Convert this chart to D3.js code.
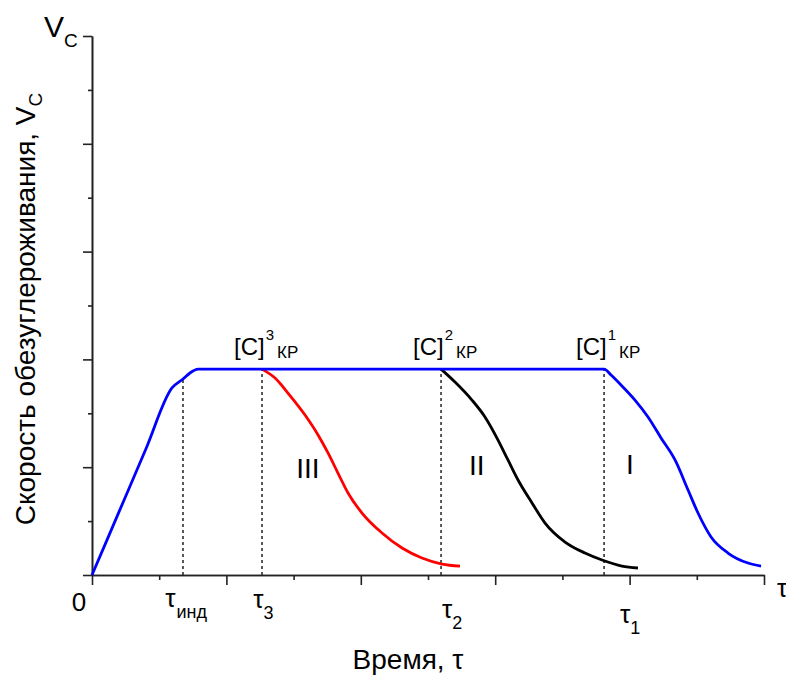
<!DOCTYPE html>
<html><head><meta charset="utf-8">
<script src="https://cdn.jsdelivr.net/npm/d3@7"></script>
<style>body{margin:0;background:#fff;} svg{display:block;font-family:"Liberation Sans",Arial,sans-serif;}</style>
</head><body>
<svg id="c" width="786" height="675"></svg>
<script>
// ---- data ----
const xMajorTicks = [0, 1, 2, 3, 4, 5];
const xMinorTicks = [0.5, 1.5, 2.5, 3.5, 4.5];
const yMajorTicks = [0, 1, 2, 3, 4, 5];
const yMinorTicks = [0.5, 1.5, 2.5, 3.5, 4.5];

// curve I (blue): induction ramp, plateau, decline
const seriesI_x = [0, 0.2, 0.4, 0.595, 0.677, 0.729, 0.789, 3.81, 3.862, 3.936, 4.040, 4.137, 4.234, 4.338, 4.435, 4.509, 4.606, 4.732, 4.881, 4.978];
const seriesI_y = [0, 0.583, 1.166, 1.735, 1.818, 1.874, 1.91, 1.91, 1.855, 1.763, 1.623, 1.466, 1.271, 1.067, 0.788, 0.575, 0.353, 0.204, 0.111, 0.083];
// curve II (black)
const seriesII_x = [2.597, 2.701, 2.827, 2.924, 3.021, 3.095, 3.170, 3.274, 3.371, 3.520, 3.668, 3.795, 3.943, 4.062];
const seriesII_y = [1.91, 1.790, 1.623, 1.466, 1.252, 1.067, 0.881, 0.668, 0.482, 0.306, 0.204, 0.139, 0.083, 0.065];
// curve III (red)
const seriesIII_x = [1.265, 1.362, 1.458, 1.585, 1.682, 1.756, 1.830, 1.905, 2.009, 2.158, 2.307, 2.455, 2.604, 2.738];
const seriesIII_y = [1.91, 1.827, 1.688, 1.484, 1.299, 1.132, 0.946, 0.761, 0.575, 0.390, 0.250, 0.158, 0.102, 0.083];

// characteristic times (dotted lines) and their labels
const tauSubs = ["инд", "3", "2", "1"];
const tauValues = [0.677, 1.265, 2.597, 3.81];
const tauTops = [1.818, 1.91, 1.91, 1.91];
const tauLabelX = [0.545, 1.200, 2.604, 3.929];
// critical concentration labels
const crSups = ["3", "2", "1"];
const crTau = [1.265, 2.597, 3.81];
// curve numerals
const numerals = ["III", "II", "I"];
const numeralX = [1.606, 2.863, 4.003];
const numeralY = [0.900, 0.930, 0.940];

// ---- drawing ----
const svg = d3.select("#c");
const x = d3.scaleLinear().domain([0, 5]).range([92, 764]);
const y = d3.scaleLinear().domain([0, 5]).range([575, 36]);
const axisColor = "#222";

// dotted lines
tauValues.forEach((t, i) => {
  svg.append("line")
    .attr("x1", x(t)).attr("x2", x(t))
    .attr("y1", y(0)).attr("y2", y(tauTops[i]))
    .attr("stroke", "#000").attr("stroke-width", 1.3)
    .attr("stroke-dasharray", "3,3");
});

// axes
function styleAxis(g) {
  g.select(".domain").attr("stroke", axisColor).attr("stroke-width", 1.6);
  g.selectAll(".tick line").attr("stroke", axisColor).attr("stroke-width", 1.6);
  g.selectAll("text").remove();
}
svg.append("g").attr("transform", `translate(0,${y(0)})`)
  .call(d3.axisBottom(x).tickValues(xMajorTicks).tickSize(10).tickSizeOuter(0).tickFormat(""))
  .call(styleAxis);
svg.append("g").attr("transform", `translate(0,${y(0)})`)
  .call(d3.axisBottom(x).tickValues(xMinorTicks).tickSize(5).tickSizeOuter(0).tickFormat(""))
  .call(styleAxis);
svg.append("g").attr("transform", `translate(${x(0)},0)`)
  .call(d3.axisLeft(y).tickValues(yMajorTicks).tickSize(9).tickSizeOuter(0).tickFormat(""))
  .call(styleAxis);
svg.append("g").attr("transform", `translate(${x(0)},0)`)
  .call(d3.axisLeft(y).tickValues(yMinorTicks).tickSize(4).tickSizeOuter(0).tickFormat(""))
  .call(styleAxis);

// curves
const line = d3.line().x(d => x(d[0])).y(d => y(d[1])).curve(d3.curveMonotoneX);
const curves = [
  {xs: seriesIII_x, ys: seriesIII_y, color: "#ff0000"},
  {xs: seriesII_x, ys: seriesII_y, color: "#000000"},
  {xs: seriesI_x, ys: seriesI_y, color: "#0000ff"}
];
curves.forEach(c => {
  svg.append("path")
    .datum(c.xs.map((v, i) => [v, c.ys[i]]))
    .attr("d", line)
    .attr("fill", "none")
    .attr("stroke", c.color)
    .attr("stroke-width", 2.8)
    .attr("stroke-linejoin", "round");
});

// tick label 0
svg.append("text").attr("x", x(0) - 13).attr("y", 611)
  .attr("text-anchor", "middle").attr("font-size", 26).text("0");

// tau labels
const tauBase = [607, 608, 618, 623];
tauSubs.forEach((s, i) => {
  const t = svg.append("text").attr("x", x(tauLabelX[i])).attr("y", tauBase[i]).attr("font-size", 26);
  t.append("tspan").text("τ");
  t.append("tspan").attr("font-size", 18).attr("dy", 11).attr("dx", i === 0 ? 1 : 0).text(s);
});

// axis end tau
svg.append("text").attr("x", 777).attr("y", 597).attr("font-size", 26).text("τ");

// critical concentration labels
crSups.forEach((s, i) => {
  const t = svg.append("text").attr("x", x(crTau[i]) - 28).attr("y", 355).attr("font-size", 24);
  t.append("tspan").text("[C]");
  t.append("tspan").attr("font-size", 15).attr("dy", -15).attr("dx", 1).text(s);
  t.append("tspan").attr("font-size", 17).attr("dy", 18).attr("dx", 3).text("КР");
});

// numerals
numerals.forEach((n, i) => {
  svg.append("text").attr("x", x(numeralX[i])).attr("y", y(numeralY[i]))
    .attr("text-anchor", "middle").attr("font-size", 28).text(n);
});

// top V_C
const vt = svg.append("text").attr("x", 44).attr("y", 37).attr("font-size", 30);
vt.append("tspan").text("V");
vt.append("tspan").attr("font-size", 19).attr("dy", 10).attr("dx", 0).text("C");

// y title
const yt = svg.append("text").attr("transform", "translate(35,309) rotate(-90)")
  .attr("text-anchor", "middle").attr("font-size", 28);
yt.append("tspan").text("Скорость обезуглероживания, V");
yt.append("tspan").attr("font-size", 19).attr("dy", 7).text("C");

// x title
svg.append("text").attr("x", 408).attr("y", 669).attr("text-anchor", "middle")
  .attr("font-size", 28).text("Время, τ");
</script>
</body></html>
